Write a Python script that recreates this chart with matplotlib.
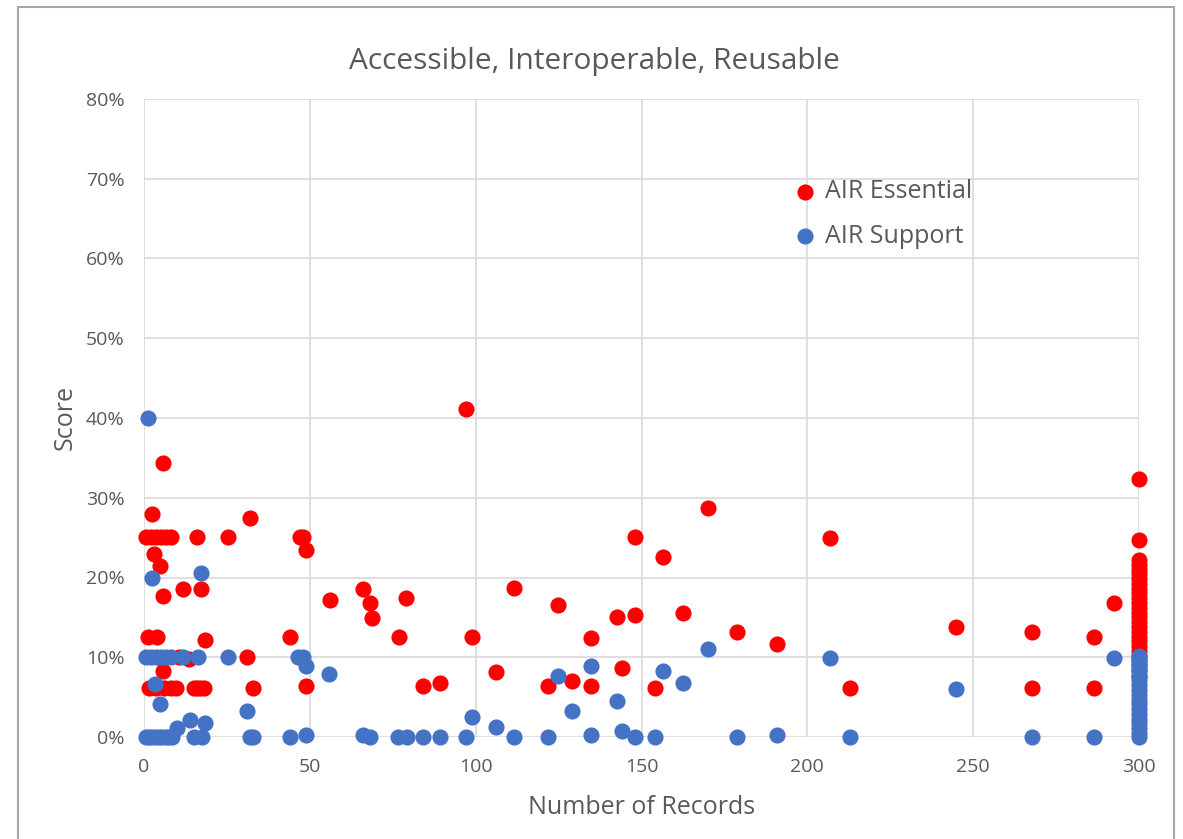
import numpy as np
import matplotlib
matplotlib.use('Agg')
import matplotlib.pyplot as plt
from matplotlib.patches import Rectangle
from matplotlib.ticker import MultipleLocator, PercentFormatter

plt.rcParams['font.family'] = ['Open Sans', 'DejaVu Sans']

# AIR Essential (red) - number of records vs score (%)
ess_x = [5.8, 2.3, 0.5, 2, 3.5, 5, 6.5, 8, 16.1, 25.2, 47, 48, 32, 48.7, 3.1, 4.8,
         5.8, 11.9, 17.2, 56.1, 66.1, 68.1, 68.6, 1.3, 3.8, 18.4, 44, 31, 10.5, 13.5,
         5.8, 1.5, 3.5, 6, 8, 9.5, 15, 16, 17, 18, 33, 48.7,
         97, 148, 156.6, 79, 111.6, 124.9, 142.7, 148, 77, 99, 134.7, 106, 144,
         84, 89.2, 121.9, 129, 134.7, 154,
         170.2, 206.8, 162.6, 178.7, 191, 212.9,
         244.7, 267.6, 286.5, 292.6, 267.6, 286.5,
         300, 300, 300, 300, 300, 300, 300, 300, 300, 300, 300, 300, 300, 300,
         300, 300, 300, 300, 300, 300, 300, 300, 300, 300, 300, 300, 300]
ess_y = [34.4, 28.0, 25.1, 25.1, 25.1, 25.1, 25.1, 25.1, 25.1, 25.1, 25.1, 25.1, 27.4, 23.5, 23.0, 21.4,
         17.7, 18.6, 18.6, 17.2, 18.6, 16.8, 14.9, 12.6, 12.6, 12.2, 12.6, 10.0, 10.0, 9.8,
         8.3, 6.2, 6.2, 6.2, 6.2, 6.2, 6.2, 6.2, 6.2, 6.2, 6.2, 6.4,
         41.1, 25.1, 22.6, 17.4, 18.7, 16.6, 15.1, 15.3, 12.6, 12.6, 12.4, 8.1, 8.7,
         6.4, 6.8, 6.4, 7.0, 6.4, 6.1,
         28.7, 24.9, 15.5, 13.2, 11.7, 6.1,
         13.8, 13.2, 12.5, 16.8, 6.2, 6.2,
         32.3, 24.7, 22.2, 21.6, 21.0, 20.4, 19.8, 19.2, 18.6, 18.0, 17.4, 16.8, 16.2, 15.6,
         15.0, 14.4, 13.8, 13.2, 12.6, 12.0, 11.4, 10.8, 10.2, 9.6, 9.0, 8.4, 7.6]

# AIR Support (blue)
sup_x = [1.3, 2.3, 17.2, 0.5, 2, 3.5, 5, 6.5, 8, 11.9, 16.4, 25.2, 46.5, 48, 48.7,
         55.9, 3.3, 4.8, 31, 13.9, 18.4, 9.8,
         0.5, 1.5, 2.5, 3.5, 4.5, 5.5, 6.5, 7.5, 8.5, 15, 17.5, 32, 33, 44, 48.7, 66, 68,
         124.9, 134.7, 156.6, 142.7, 129, 99, 106, 144,
         76.7, 79.2, 84, 89.2, 97, 111.6, 121.9, 134.7, 148, 154,
         170.2, 162.6, 206.8, 178.7, 191, 212.9,
         244.7, 292.6, 267.6, 286.5,
         300, 300, 300, 300, 300, 300, 300, 300, 300, 300, 300, 300, 300, 300, 300, 300, 300, 300]
sup_y = [40.0, 19.9, 20.6, 10, 10, 10, 10, 10, 10, 10, 10, 10, 10, 10, 8.9,
         7.9, 6.6, 4.1, 3.2, 2.1, 1.7, 1.1,
         0, 0, 0, 0, 0, 0, 0, 0, 0, 0, 0, 0, 0, 0, 0.2, 0.2, 0,
         7.7, 8.9, 8.3, 4.5, 3.2, 2.5, 1.3, 0.7,
         0, 0, 0, 0, 0, 0, 0, 0.25, 0, 0,
         11.0, 6.8, 9.9, 0, 0.2, 0,
         6.0, 9.9, 0, 0,
         10.1, 9.5, 8.9, 8.3, 7.7, 7.1, 6.5, 5.9, 5.3, 4.7, 4.1, 3.5, 2.9, 2.3, 1.7, 1.1, 0.5, 0]

grey = '#595959'

fig = plt.figure(figsize=(11.83, 8.39), dpi=100)
ax = fig.add_axes([144/1183, 1-737/839, (1139-144)/1183, (737-99)/839])

ax.scatter(ess_x, ess_y, s=135, color='#FF0000', linewidths=0, label='AIR Essential',
           zorder=3, clip_on=False)
ax.scatter(sup_x, sup_y, s=135, color='#4472C4', linewidths=0, label='AIR Support',
           zorder=4, clip_on=False)

ax.set_xlim(0, 300)
ax.set_ylim(0, 80)
ax.xaxis.set_major_locator(MultipleLocator(50))
ax.yaxis.set_major_locator(MultipleLocator(10))
ax.yaxis.set_major_formatter(PercentFormatter(decimals=0))
ax.grid(True, color='#D9D9D9', linewidth=1.2)
ax.set_axisbelow(True)
for sp in ax.spines.values():
    sp.set_visible(False)
ax.tick_params(length=0, labelsize=14, colors=grey)
ax.tick_params(axis='x', pad=15)
ax.tick_params(axis='y', pad=14)

# chart title is centred on the whole chart area, not the plot area
fig.text(594/1183, 1-62/839, 'Accessible, Interoperable, Reusable', fontsize=21.5,
         color=grey, ha='center', va='center')
ax.set_xlabel('Number of Records', fontsize=18, color=grey, labelpad=14)
ax.set_ylabel('Score', fontsize=18, color=grey, labelpad=6)

leg = ax.legend(loc='upper left', bbox_to_anchor=(0.652, 0.874), frameon=False,
                fontsize=18, handlelength=1.0, handletextpad=0.3, labelspacing=0.77,
                borderpad=0, borderaxespad=0)
for t in leg.get_texts():
    t.set_color(grey)

fig.patches.append(Rectangle((18/1183, -0.05), (1174-18)/1183, 1.05-7/839,
                             transform=fig.transFigure, fill=False,
                             edgecolor='#A6A6A6', linewidth=1.5))

fig.savefig('out.png', dpi=100)
